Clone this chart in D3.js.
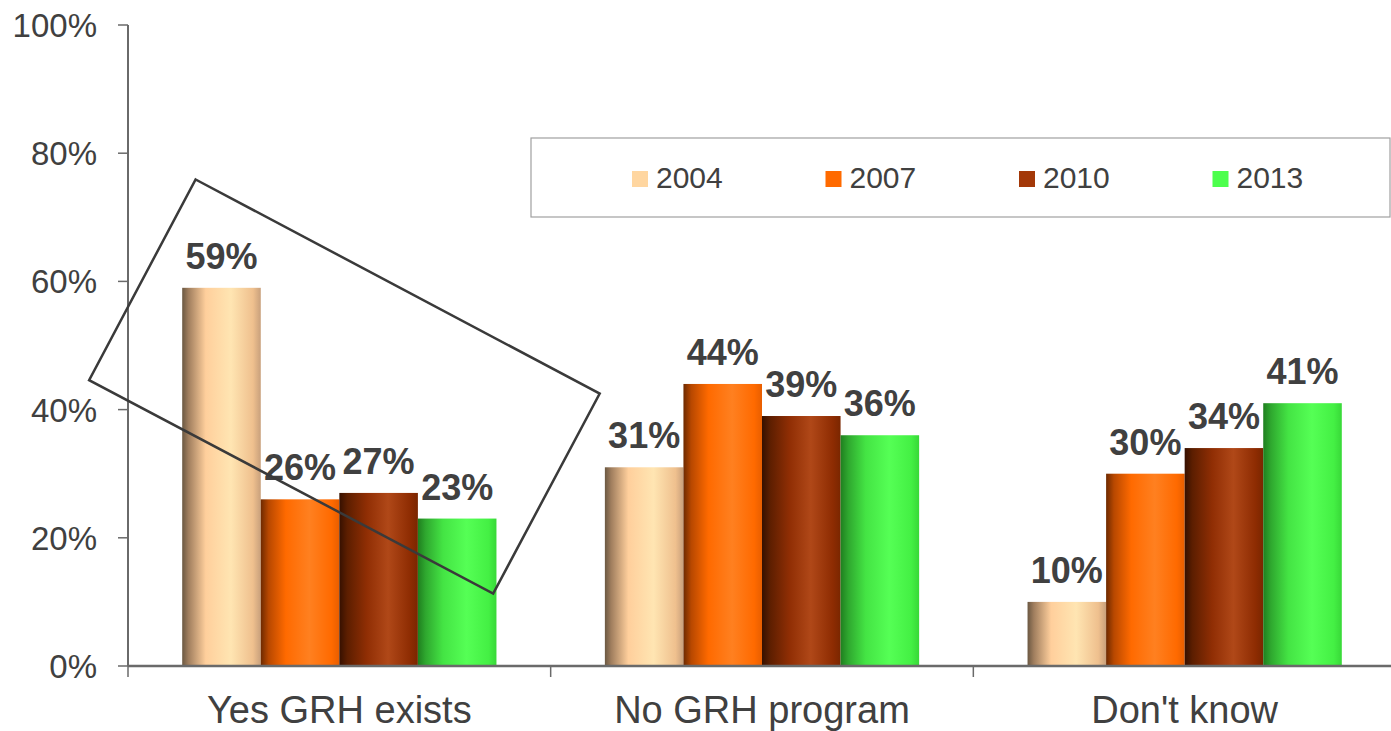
<!DOCTYPE html>
<html>
<head>
<meta charset="utf-8">
<script src="https://cdn.jsdelivr.net/npm/d3@7/dist/d3.min.js"></script>
<style>
  html, body { margin: 0; padding: 0; background: #fff; }
  svg { display: block; font-family: "Liberation Sans", Arial, sans-serif; }
</style>
</head>
<body>
<svg id="chart" width="1391" height="731"></svg>
<script>
// Survey answers by year (percent of respondents)
const categories = ["Yes GRH exists", "No GRH program", "Don't know"];
const years = ["2004", "2007", "2010", "2013"];
const values2004 = [59, 31, 10];
const values2007 = [26, 44, 30];
const values2010 = [27, 39, 34];
const values2013 = [23, 36, 41];
const yTicks = [0, 20, 40, 60, 80, 100];
const yTickLabels = ["0%", "20%", "40%", "60%", "80%", "100%"];

const seriesValues = [values2004, values2007, values2010, values2013];

// Cylinder-style shading per year: [offset, colour]
const shading = {
  "2004": [[0, "#6b5842"], [0.08, "#a07e5e"], [0.3, "#ffcf9c"], [0.62, "#ffe5b2"], [0.9, "#efc08e"], [1, "#c8a07c"]],
  "2007": [[0, "#6e2a00"], [0.1, "#b84800"], [0.32, "#ff6a00"], [0.62, "#ff8020"], [0.9, "#ff6a00"], [1, "#e85e00"]],
  "2010": [[0, "#361000"], [0.1, "#5c1e00"], [0.35, "#902e04"], [0.62, "#b04818"], [0.9, "#8e2c02"], [1, "#7a2600"]],
  "2013": [[0, "#1f7f1f"], [0.1, "#2fa82f"], [0.32, "#44e444"], [0.62, "#55ff55"], [0.9, "#44f044"], [1, "#38d838"]]
};
const swatch = { "2004": "#ffd6a0", "2007": "#ff6a00", "2010": "#a33808", "2013": "#4cff4c" };

// Highlight frame around the first group, in [band fraction, percent] space
const highlightCorners = [[0.160, 75.9], [1.116, 42.5], [0.864, 11.3], [-0.092, 44.6]];

const svg = d3.select("#chart");
const ink = "#404040";
const axisColor = "#6a6a6a";

const plotLeft = 128, plotRight = 1396, plotTop = 25, plotBottom = 666;

const x = d3.scaleBand().domain(categories).range([plotLeft, plotRight]).paddingInner(0).paddingOuter(0);
const xInner = d3.scaleBand().domain(years).range([0, x.bandwidth()]).paddingInner(0).paddingOuter(0.69);
const y = d3.scaleLinear().domain([0, 100]).range([plotBottom, plotTop]);

// gradients
const defs = svg.append("defs");
years.forEach(yr => {
  const g = defs.append("linearGradient").attr("id", "grad" + yr)
    .attr("x1", "0%").attr("x2", "100%").attr("y1", "0%").attr("y2", "0%");
  shading[yr].forEach(([o, c]) => g.append("stop").attr("offset", o).attr("stop-color", c));
});

// bars
const barData = [];
categories.forEach((cat, ci) => {
  years.forEach((yr, si) => barData.push({ cat, yr, v: seriesValues[si][ci] }));
});

svg.append("g").selectAll("rect").data(barData).join("rect")
  .attr("x", d => x(d.cat) + xInner(d.yr))
  .attr("y", d => y(d.v))
  .attr("width", xInner.bandwidth())
  .attr("height", d => y(0) - y(d.v))
  .attr("fill", d => `url(#grad${d.yr})`);

// value labels
svg.append("g").selectAll("text").data(barData).join("text")
  .attr("x", d => x(d.cat) + xInner(d.yr) + xInner.bandwidth() / 2)
  .attr("y", d => y(d.v) - 19)
  .attr("text-anchor", "middle")
  .attr("font-size", 36)
  .attr("font-weight", "bold")
  .attr("fill", ink)
  .text(d => d.v + "%");

// y axis
const yAxis = svg.append("g");
yAxis.append("line").attr("x1", plotLeft).attr("x2", plotLeft).attr("y1", y(100)).attr("y2", y(0))
  .attr("stroke", axisColor).attr("stroke-width", 2);
yAxis.selectAll("line.tick").data(yTicks).join("line").attr("class", "tick")
  .attr("x1", plotLeft - 10).attr("x2", plotLeft).attr("y1", d => y(d)).attr("y2", d => y(d))
  .attr("stroke", axisColor).attr("stroke-width", 1.5);
yAxis.selectAll("text").data(yTicks).join("text")
  .attr("x", 97).attr("y", d => y(d) + 12)
  .attr("text-anchor", "end").attr("font-size", 33).attr("fill", ink)
  .text((d, i) => yTickLabels[i]);

// x axis
const xAxis = svg.append("g");
xAxis.append("line").attr("x1", plotLeft).attr("x2", 1391).attr("y1", y(0)).attr("y2", y(0))
  .attr("stroke", axisColor).attr("stroke-width", 2.5);
xAxis.selectAll("line.tick").data(categories).join("line").attr("class", "tick")
  .attr("x1", d => x(d)).attr("x2", d => x(d)).attr("y1", y(0)).attr("y2", y(0) + 11)
  .attr("stroke", axisColor).attr("stroke-width", 1.5);
xAxis.selectAll("text").data(categories).join("text")
  .attr("x", d => x(d) + x.bandwidth() / 2).attr("y", 723)
  .attr("text-anchor", "middle").attr("font-size", 38).attr("fill", ink)
  .text(d => d);

// highlight frame
const band0 = x(categories[0]), bw = x.bandwidth();
svg.append("polygon")
  .attr("points", highlightCorners.map(([f, v]) => [band0 + f * bw, y(v)].join(",")).join(" "))
  .attr("fill", "none").attr("stroke", "#3a3a3a").attr("stroke-width", 2.5);

// legend
const legend = svg.append("g");
legend.append("rect").attr("x", 531).attr("y", 138).attr("width", 859).attr("height", 79)
  .attr("fill", "#fff").attr("stroke", "#a0a0a0").attr("stroke-width", 1.2);
const item = legend.selectAll("g.item").data(years).join("g").attr("class", "item")
  .attr("transform", (d, i) => `translate(${632 + i * 193.5},0)`);
item.append("rect").attr("x", 0).attr("y", 171).attr("width", 16).attr("height", 16)
  .attr("fill", d => swatch[d]);
item.append("text").attr("x", 24).attr("y", 188).attr("font-size", 30).attr("fill", ink)
  .text(d => d);
</script>
</body>
</html>
